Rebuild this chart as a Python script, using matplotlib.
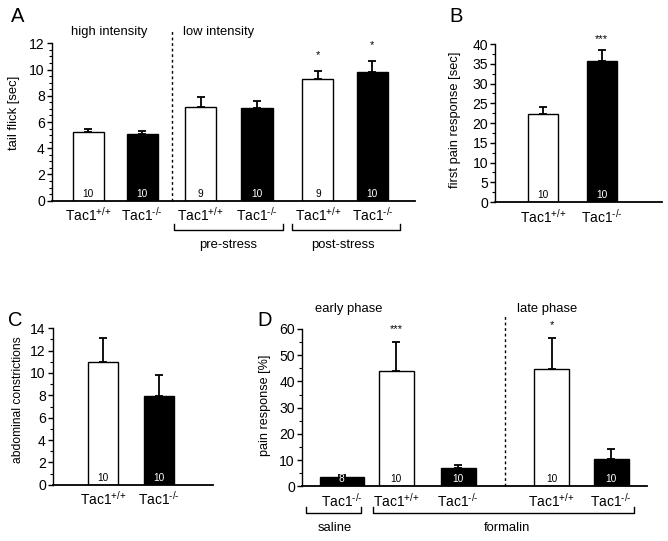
import matplotlib
matplotlib.use("Agg")
import matplotlib.pyplot as plt
from matplotlib.ticker import MultipleLocator

plt.rcParams['font.family'] = ['Liberation Sans', 'DejaVu Sans']
plt.rcParams['mathtext.fontset'] = 'custom'
plt.rcParams['mathtext.rm'] = 'Liberation Sans'
plt.rcParams['mathtext.it'] = 'Liberation Sans'
plt.rcParams['mathtext.default'] = 'regular'

WT = r'Tac1$^{\text{+/+}}$'
KO = r'Tac1$^{\text{-/-}}$'

# ---------------- data ----------------
a_labels = [WT, KO, WT, KO, WT, KO]
a_means = [5.24, 5.06, 7.14, 7.04, 9.25, 9.83]
a_err = [0.25, 0.25, 0.76, 0.53, 0.64, 0.82]
a_n = ['10', '10', '9', '10', '9', '10']
a_sig = ['', '', '', '', '*', '*']
a_ko = [False, True, False, True, False, True]

b_labels = [WT, KO]
b_means = [22.3, 35.8]
b_err = [1.7, 2.6]
b_n = ['10', '10']
b_sig = ['', '***']
b_ko = [False, True]

c_labels = [WT, KO]
c_means = [11.0, 7.97]
c_err = [2.15, 1.85]
c_n = ['10', '10']
c_ko = [False, True]

d_labels = [KO, WT, KO, WT, KO]
d_means = [3.4, 44.1, 7.1, 44.6, 10.5]
d_err = [0.9, 10.8, 1.1, 12.1, 3.7]
d_n = ['8', '10', '10', '10', '10']
d_sig = ['', '***', '', '*', '']
d_ko = [True, False, True, False, True]

# ---------------- layout ----------------
W, H = 668, 541
fig = plt.figure(figsize=(W / 100, H / 100), dpi=100)


def add_ax(left, right, top, bottom):
    return fig.add_axes([left / W, 1 - bottom / H, (right - left) / W, (bottom - top) / H])


TICK_FS = 10.1
LAB_FS = 9.4


def style(ax, ymax, major, minor, xlim):
    ax.set_ylim(0, ymax)
    ax.set_xlim(*xlim)
    for s in ['top', 'right']:
        ax.spines[s].set_visible(False)
    ax.spines['left'].set_linewidth(1.0)
    ax.spines['bottom'].set_linewidth(1.3)
    ax.yaxis.set_major_locator(MultipleLocator(major))
    ax.yaxis.set_minor_locator(MultipleLocator(minor))
    ax.tick_params(axis='y', which='major', length=3.5, width=1.0, labelsize=TICK_FS, pad=1.5)
    ax.tick_params(axis='y', which='minor', length=2, width=0.8)
    ax.tick_params(axis='x', length=0, labelsize=10.0, pad=4)
    ax.patch.set_alpha(0)


def bars(ax, pos, means, errs, ko, widths, ns, sig=None, sig_off=0.0):
    for i, (p, m, e, k, w, n) in enumerate(zip(pos, means, errs, ko, widths, ns)):
        ax.bar(p, m, width=w, color='black' if k else 'white', edgecolor='black', linewidth=1.0, zorder=2)
        ax.errorbar(p, m, yerr=[[0], [e]], fmt='none', ecolor='black', elinewidth=1.3,
                    capsize=3.2, capthick=1.3, zorder=3)
        ax.text(p, ax.get_ylim()[1] * 0.012, n, ha='center', va='bottom', fontsize=7.3,
                color='white' if k else 'black', zorder=4)
        if sig and sig[i]:
            ax.text(p, m + e + sig_off, sig[i], ha='center', va='bottom', fontsize=8, zorder=4)


def bracket(ax, x0, x1, ytop, ybot):
    ax.plot([x0, x0, x1, x1], [ytop, ybot, ybot, ytop], color='black', lw=1.0, clip_on=False)


# ---------- Panel A ----------
axA = add_ax(51.7, 415, 43.3, 200.7)
a_pos = [0, 0.95, 1.98, 2.97, 4.04, 5.0]
style(axA, 12, 2, 0.5, (-0.643, 5.75))
bars(axA, a_pos, a_means, a_err, a_ko, [0.55] * 6, a_n, a_sig, sig_off=0.85)
axA.set_xticks(a_pos)
axA.set_xticklabels(a_labels)
axA.plot([1.47, 1.47], [0, 13.1], color='black', lw=1.0, ls=(0, (2, 2)), clip_on=False)
axA.text(-0.30, 12.4, 'high intensity', fontsize=LAB_FS, va='bottom')
axA.text(1.67, 12.4, 'low intensity', fontsize=LAB_FS, va='bottom')
bracket(axA, 1.51, 3.42, -1.75, -2.23)
bracket(axA, 3.59, 5.49, -1.75, -2.23)
axA.text(2.46, -3.38, 'pre-stress', ha='center', va='center', fontsize=LAB_FS)
axA.text(4.49, -3.38, 'post-stress', ha='center', va='center', fontsize=LAB_FS)

# ---------- Panel B ----------
axB = add_ax(495, 661.7, 44, 202)
b_pos = [0, 1]
style(axB, 40, 5, 2.5, (-0.82, 2.02))
bars(axB, b_pos, b_means, b_err, b_ko, [0.51] * 2, b_n, b_sig, sig_off=1.5)
axB.set_xticks(b_pos)
axB.set_xticklabels(b_labels)

# ---------- Panel C ----------
axC = add_ax(52.7, 213.3, 328.3, 484.7)
c_pos = [0, 1]
style(axC, 14, 2, 1, (-0.89, 1.96))
bars(axC, c_pos, c_means, c_err, c_ko, [0.53] * 2, c_n)
axC.set_xticks(c_pos)
axC.set_xticklabels(c_labels)

# ---------- Panel D ----------
axD = add_ax(301.7, 646.7, 329, 486.3)
d_pos = [0, 0.92, 1.97, 3.55, 4.56]
style(axD, 60, 10, 5, (-0.68, 5.16))
bars(axD, d_pos, d_means, d_err, d_ko, [0.75, 0.59, 0.59, 0.59, 0.59], d_n, d_sig, sig_off=3.0)
axD.set_xticks(d_pos)
axD.set_xticklabels(d_labels)
axD.plot([2.76, 2.76], [0, 65.4], color='black', lw=1.0, ls=(0, (2, 2)), clip_on=False)
axD.text(-0.46, 65.5, 'early phase', fontsize=LAB_FS, va='bottom')
axD.text(2.96, 65.5, 'late phase', fontsize=LAB_FS, va='bottom')
bracket(axD, -0.60, 0.33, -8.0, -10.3)
bracket(axD, 0.52, 4.95, -8.0, -10.3)
axD.text(-0.12, -16.0, 'saline', ha='center', va='center', fontsize=LAB_FS)
axD.text(2.79, -16.0, 'formalin', ha='center', va='center', fontsize=LAB_FS)

# ---------- y labels and panel letters ----------
def ftext(x, y, s, **kw):
    fig.text(x / W, 1 - y / H, s, **kw)

ftext(14, 113, 'tail flick [sec]', rotation=90, ha='center', va='center', fontsize=9.4)
ftext(455, 120, 'first pain response [sec]', rotation=90, ha='center', va='center', fontsize=9.3)
ftext(18, 400, 'abdominal constrictions', rotation=90, ha='center', va='center', fontsize=8.7)
ftext(265, 405, 'pain response [%]', rotation=90, ha='center', va='center', fontsize=9.1)

ftext(11, 16, 'A', fontsize=14.5, ha='left', va='center')
ftext(449, 17, 'B', fontsize=14.5, ha='left', va='center')
ftext(8, 321, 'C', fontsize=14.5, ha='left', va='center')
ftext(257, 321, 'D', fontsize=14.5, ha='left', va='center')

fig.savefig('out.png', dpi=100)
